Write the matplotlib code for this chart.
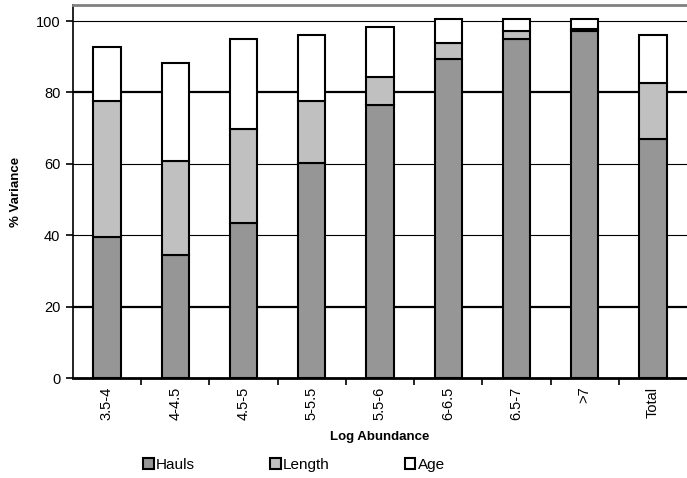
import numpy as np
import matplotlib.pyplot as plt
from matplotlib.patches import Patch

categories = ['3.5-4', '4-4.5', '4.5-5', '5-5.5', '5.5-6', '6-6.5', '6.5-7', '>7', 'Total']
hauls = [39.5, 34.5, 43.5, 60.2, 76.5, 89.4, 95.0, 97.2, 66.9]
length = [38.2, 26.3, 26.3, 17.5, 7.7, 4.4, 2.1, 0.6, 15.7]
age = [15.0, 27.5, 25.2, 18.5, 14.2, 6.8, 3.5, 2.8, 13.6]

plt.rcParams['font.family'] = ['Liberation Sans', 'DejaVu Sans']

fig = plt.figure(figsize=(6.87, 4.78), dpi=100)
ax = fig.add_axes([0.106, 0.209, 0.894, 0.7805])

x = np.arange(len(categories))
w = 0.4
hauls = np.array(hauls)
length = np.array(length)
age = np.array(age)
ax.bar(x, hauls, w, color='#969696', edgecolor='black', linewidth=1.5, zorder=3)
ax.bar(x, length, w, bottom=hauls, color='#c0c0c0', edgecolor='black', linewidth=1.5, zorder=3)
ax.bar(x, age, w, bottom=hauls + length, color='white', edgecolor='black', linewidth=1.5, zorder=3)

# gridlines (20 and 80 drawn heavier, as in the original)
for yv, lw in [(20, 1.6), (40, 0.8), (60, 0.8), (80, 1.6), (100, 0.8)]:
    ax.axhline(yv, color='black', linewidth=lw, zorder=1)

ax.set_xlim(-0.5, len(categories) - 0.5)
ax.set_ylim(0, 104.5)
ax.set_yticks([0, 20, 40, 60, 80, 100])
ax.set_xticks(x)
ax.set_xticklabels(categories, rotation=90, fontsize=10.5)
ax.set_xticks(np.arange(0.5, len(categories) - 0.5, 1), minor=True)
ax.tick_params(axis='x', which='major', length=0, pad=6)
ax.tick_params(axis='x', which='minor', length=5, width=1.2, direction='out')
ax.tick_params(axis='y', length=5, width=1.2, direction='out', labelsize=10.5, pad=4)

ax.spines['right'].set_visible(False)
ax.spines['top'].set_color('#808080')
ax.spines['top'].set_linewidth(2)
ax.spines['left'].set_linewidth(1.2)
ax.spines['bottom'].set_linewidth(2)

ax.set_ylabel('% Variance', fontsize=9.5, fontweight='bold', labelpad=10)
ax.set_xlabel('Log Abundance', fontsize=9.5, fontweight='bold', labelpad=8)

handles = [Patch(facecolor='#969696', edgecolor='black', linewidth=1.5, label='Hauls'),
           Patch(facecolor='#c0c0c0', edgecolor='black', linewidth=1.5, label='Length'),
           Patch(facecolor='white', edgecolor='black', linewidth=1.5, label='Age')]
fig.legend(handles=handles, loc='center', bbox_to_anchor=(0.428, 0.027), ncol=3,
           frameon=False, fontsize=11, handlelength=0.7, handleheight=0.7,
           handletextpad=0.15, columnspacing=4.9)

fig.savefig('out.png', dpi=100)
